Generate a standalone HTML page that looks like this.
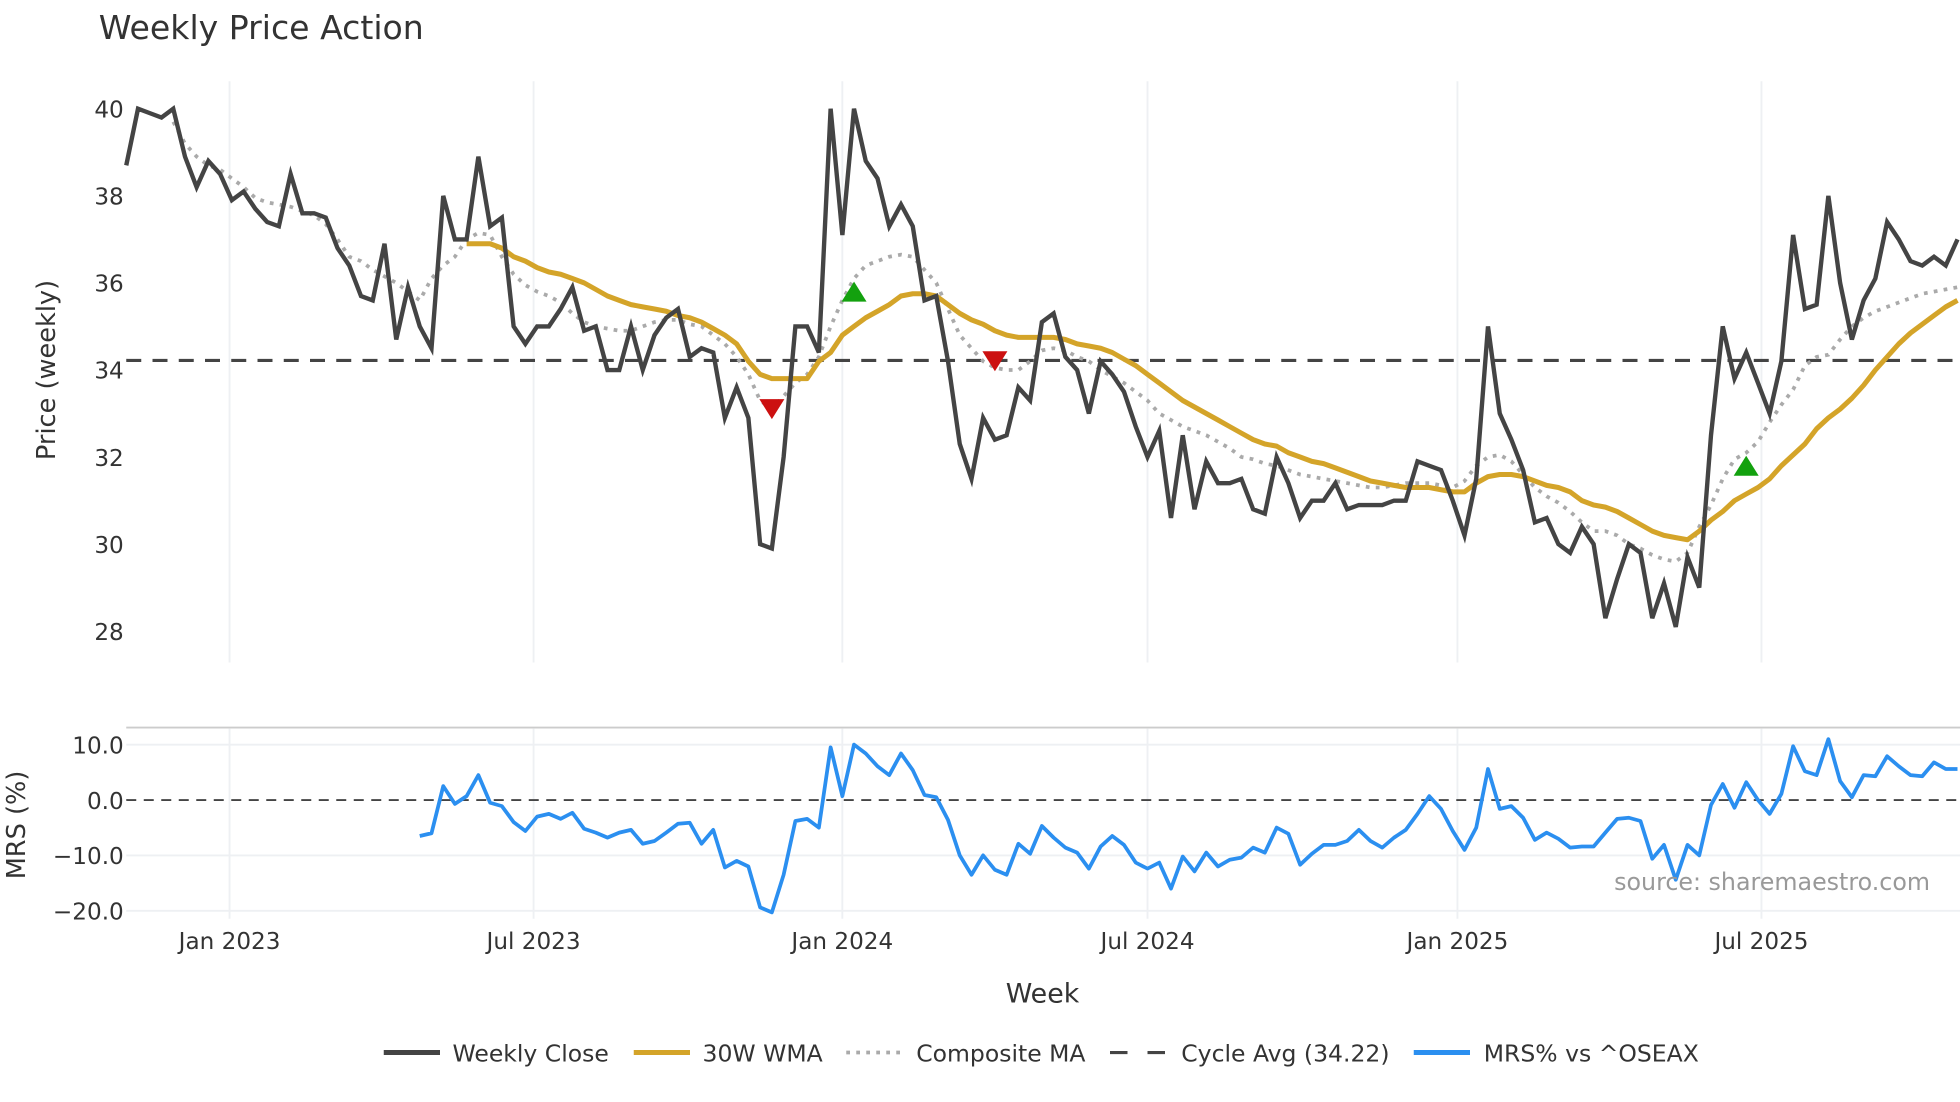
<!DOCTYPE html>
<html><head><meta charset="utf-8"><style>
html,body{margin:0;padding:0;background:#fff;}
svg{display:block;font-family:"DejaVu Sans","Liberation Sans",sans-serif;}
</style></head><body>
<svg id="chart" width="1960" height="1102" viewBox="0 0 1568 881.6" xmlns="http://www.w3.org/2000/svg">
<rect width="1568" height="881.6" fill="#fff"/>
<text x="79" y="31" font-size="26.5" fill="#333">Weekly Price Action</text>
<g id="grid"></g>
<g id="axes"></g>
<g id="series"></g>
<text transform="translate(44,296) rotate(-90)" text-anchor="middle" font-size="20.5" fill="#333">Price (weekly)</text>
<text transform="translate(20,660) rotate(-90)" text-anchor="middle" font-size="20.5" fill="#333">MRS (%)</text>
<text x="834" y="802" text-anchor="middle" font-size="21.5" fill="#333">Week</text>
<text x="1544" y="712" text-anchor="end" font-size="19" fill="#999">source: sharemaestro.com</text>
<g id="legend">
  <line x1="307" y1="842" x2="352" y2="842" stroke="#444" stroke-width="4"/>
  <text x="362" y="849" font-size="18.8" fill="#333">Weekly Close</text>
  <line x1="507" y1="842" x2="552" y2="842" stroke="#d4a429" stroke-width="4"/>
  <text x="562" y="849" font-size="18.8" fill="#333">30W WMA</text>
  <line x1="677" y1="842" x2="720" y2="842" stroke="#aaa" stroke-width="3" stroke-dasharray="3,5"/>
  <text x="733" y="849" font-size="18.8" fill="#333">Composite MA</text>
  <line x1="888" y1="842" x2="932" y2="842" stroke="#444" stroke-width="2.5" stroke-dasharray="14,16"/>
  <text x="945" y="849" font-size="18.8" fill="#333">Cycle Avg (34.22)</text>
  <line x1="1131" y1="842" x2="1176" y2="842" stroke="#2b8ff0" stroke-width="4"/>
  <text x="1187" y="849" font-size="18.8" fill="#333">MRS% vs ^OSEAX</text>
</g>
</svg>
<script>
const closeVals=[38.7,40.0,39.9,39.8,40.0,38.9,38.2,38.8,38.5,37.9,38.1,37.7,37.4,37.3,38.5,37.6,37.6,37.5,36.8,36.4,35.7,35.6,36.9,34.7,35.9,35.0,34.5,38.0,37.0,37.0,38.9,37.3,37.5,35.0,34.6,35.0,35.0,35.4,35.9,34.9,35.0,34.0,34.0,35.0,34.0,34.8,35.2,35.4,34.3,34.5,34.4,32.9,33.6,32.9,30.0,29.9,32.0,35.0,35.0,34.4,40.0,37.1,40.0,38.8,38.4,37.3,37.8,37.3,35.6,35.7,34.2,32.3,31.5,32.9,32.4,32.5,33.6,33.3,35.1,35.3,34.3,34.0,33.0,34.2,33.9,33.5,32.7,32.0,32.6,30.6,32.5,30.8,31.9,31.4,31.4,31.5,30.8,30.7,32.0,31.4,30.6,31.0,31.0,31.4,30.8,30.9,30.9,30.9,31.0,31.0,31.9,31.8,31.7,31.0,30.2,31.5,35.0,33.0,32.4,31.7,30.5,30.6,30.0,29.8,30.4,30.0,28.3,29.2,30.0,29.8,28.3,29.1,28.1,29.7,29.0,32.5,35.0,33.8,34.4,33.7,33.0,34.2,37.1,35.4,35.5,38.0,36.0,34.7,35.6,36.1,37.4,37.0,36.5,36.4,36.6,36.4,37.0];
const wmaStart=29;
const wmaVals=[36.9,36.9,36.9,36.8,36.6,36.5,36.35,36.25,36.2,36.1,36.0,35.85,35.7,35.6,35.5,35.45,35.4,35.35,35.25,35.2,35.1,34.95,34.8,34.6,34.2,33.9,33.8,33.8,33.8,33.8,34.2,34.4,34.8,35.0,35.2,35.35,35.5,35.7,35.75,35.75,35.7,35.5,35.3,35.15,35.05,34.9,34.8,34.75,34.75,34.75,34.75,34.7,34.6,34.55,34.5,34.4,34.25,34.1,33.9,33.7,33.5,33.3,33.15,33.0,32.85,32.7,32.55,32.4,32.3,32.25,32.1,32.0,31.9,31.85,31.75,31.65,31.55,31.45,31.4,31.35,31.3,31.3,31.3,31.25,31.2,31.2,31.4,31.55,31.6,31.6,31.55,31.45,31.35,31.3,31.2,31.0,30.9,30.85,30.75,30.6,30.45,30.3,30.2,30.15,30.1,30.3,30.55,30.75,31.0,31.15,31.3,31.5,31.8,32.05,32.3,32.65,32.9,33.1,33.35,33.65,34.0,34.3,34.6,34.85,35.05,35.25,35.45,35.6];
const compStart=4;
const compVals=[39.7,39.2,38.9,38.7,38.6,38.4,38.2,37.95,37.85,37.8,37.75,37.65,37.55,37.35,37.0,36.6,36.5,36.3,36.15,36.0,35.8,35.6,36.1,36.4,36.6,37.0,37.15,37.1,36.6,36.2,35.95,35.8,35.7,35.55,35.3,35.1,35.0,34.95,34.9,34.9,35.0,35.1,35.15,35.15,35.05,35.0,34.8,34.6,34.3,33.9,33.3,33.1,33.4,33.7,33.9,34.3,35.0,35.6,36.1,36.4,36.5,36.6,36.65,36.6,36.3,36.0,35.4,34.8,34.5,34.2,34.05,34.0,34.0,34.2,34.45,34.5,34.45,34.3,34.2,34.0,33.85,33.7,33.5,33.3,33.0,32.85,32.7,32.6,32.5,32.35,32.2,32.0,31.95,31.85,31.8,31.7,31.6,31.55,31.5,31.45,31.4,31.35,31.3,31.3,31.35,31.4,31.4,31.4,31.35,31.3,31.45,31.8,32.0,32.05,31.9,31.6,31.3,31.1,30.95,30.75,30.5,30.3,30.3,30.2,30.0,29.9,29.75,29.65,29.6,29.8,30.4,30.9,31.5,31.95,32.1,32.35,32.8,33.2,33.55,34.1,34.3,34.35,34.7,35.0,35.2,35.35,35.45,35.55,35.65,35.75,35.8,35.85,35.9];
const cycleAvg=34.22;
const signalIdx=[55,62,74,138];
const signalVal=[33.1,35.8,34.2,31.8];
const signalDir=["down","up","down","up"];
const mrsStart=25;
const mrsVals=[-6.5,-6,2.5,-0.7,0.7,4.5,-0.5,-1.1,-4,-5.6,-3,-2.5,-3.4,-2.3,-5.2,-5.9,-6.8,-5.9,-5.4,-7.9,-7.4,-5.9,-4.3,-4.1,-7.9,-5.4,-12.2,-11,-12,-19.4,-20.3,-13.5,-3.8,-3.4,-5,9.5,0.7,10,8.4,6.1,4.5,8.4,5.4,0.9,0.5,-3.6,-10,-13.5,-10,-12.6,-13.5,-7.9,-9.7,-4.7,-6.8,-8.6,-9.5,-12.4,-8.4,-6.5,-8.1,-11.3,-12.4,-11.3,-16,-10.2,-12.9,-9.5,-12,-10.8,-10.4,-8.6,-9.5,-5,-6.1,-11.7,-9.7,-8.1,-8.1,-7.4,-5.4,-7.4,-8.6,-6.8,-5.4,-2.5,0.7,-1.6,-5.6,-9,-5,5.6,-1.6,-1.1,-3.2,-7.2,-5.9,-7,-8.6,-8.4,-8.4,-5.9,-3.4,-3.2,-3.8,-10.6,-8.1,-14.4,-8.1,-10,-0.9,2.9,-1.4,3.2,0,-2.5,1.1,9.7,5.2,4.5,11,3.4,0.5,4.5,4.3,7.9,6.1,4.5,4.3,6.8,5.6,5.6];
const priceTicks=[28,30,32,34,36,38,40];
const mrsTicks=[10,0,-10,-20];
const mrsTickLabels=["10.0","0.0","\u221210.0","\u221220.0"];
const dateLabels=["Jan 2023","Jul 2023","Jan 2024","Jul 2024","Jan 2025","Jul 2025"];
const dateIdx=[8.8,34.7,61.0,87.0,113.4,139.3];

const NS="http://www.w3.org/2000/svg";
const X=i=>101+i*(1465/156);
const YP=v=>87+(40-v)*34.83;
const YM=v=>640-v*4.43;
function mk(tag,attrs,parent){const e=document.createElementNS(NS,tag);for(const k in attrs)e.setAttribute(k,attrs[k]);parent.appendChild(e);return e;}
const grid=document.getElementById('grid'),axes=document.getElementById('axes'),series=document.getElementById('series');

dateIdx.forEach((d,k)=>{
  const l=mk('line',{x1:X(d),x2:X(d),y1:65,y2:530,stroke:'#eef0f3','stroke-width':1.5},grid);
  
  
  const l2=mk('line',{x1:X(d),x2:X(d),y1:583,y2:735,stroke:'#eef0f3','stroke-width':1.5},grid);
  
  
  const t=mk('text',{x:X(d),y:759,'text-anchor':'middle','font-size':18.5,fill:'#333'},axes);
  t.textContent=dateLabels[k];
  
  
});
priceTicks.forEach(v=>{
  const t=mk('text',{x:99,y:YP(v)+7,'text-anchor':'end','font-size':18.5,fill:'#333'},axes);
  t.textContent=String(v);
  
  
});
mk('line',{x1:101,x2:1568,y1:582,y2:582,stroke:'#ccc','stroke-width':1.5},grid);
mrsTicks.forEach((v,k)=>{
  if(v!==0){const g=mk('line',{x1:101,x2:1568,y1:YM(v),y2:YM(v),stroke:'#eef0f3','stroke-width':1.5},grid);
  
  }
  const t=mk('text',{x:99,y:YM(v)+7,'text-anchor':'end','font-size':18.5,fill:'#333'},axes);
  t.textContent=mrsTickLabels[k];
  
  
});
const z=mk('line',{x1:101,x2:1568,y1:YM(0),y2:YM(0),stroke:'#444','stroke-width':1.5,'stroke-dasharray':'8,6'},grid);



const cy=mk('line',{x1:101,x2:1568,y1:YP(cycleAvg),y2:YP(cycleAvg),stroke:'#444','stroke-width':2.5,'stroke-dasharray':'12,9'},series);



function path(vals,start,Y){return vals.map((v,i)=>(i?'L':'M')+X(start+i).toFixed(1)+','+Y(v).toFixed(1)).join('');}
const pc=mk('path',{d:path(compVals,compStart,YP),fill:'none',stroke:'#aaa','stroke-width':3,'stroke-dasharray':'3,5'},series);


const pw=mk('path',{d:path(wmaVals,wmaStart,YP),fill:'none',stroke:'#d4a429','stroke-width':4,'stroke-linejoin':'round'},series);


const pcl=mk('path',{d:path(closeVals,0,YP),fill:'none',stroke:'#444','stroke-width':3.5,'stroke-linejoin':'miter'},series);


signalIdx.forEach((si,k)=>{
  const x=X(si),y=YP(signalVal[k]);
  const pts=signalDir[k]==='up'?`${x-10},${y+8} ${x+10},${y+8} ${x},${y-8}`:`${x-10},${y-8} ${x+10},${y-8} ${x},${y+8}`;
  const m=mk('polygon',{points:pts,fill:signalDir[k]==='up'?'#13a10e':'#cc1010'},series);
  
  
});
const pm=mk('path',{d:path(mrsVals,mrsStart,YM),fill:'none',stroke:'#2b8ff0','stroke-width':3,'stroke-linejoin':'round'},series);


</script>
</body></html>
